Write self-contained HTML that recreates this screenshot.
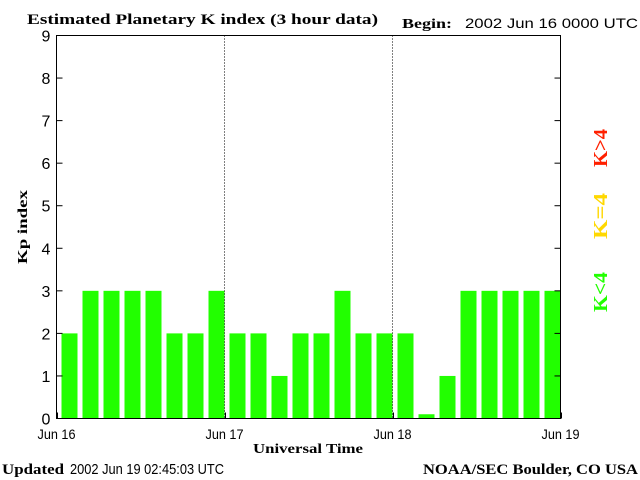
<!DOCTYPE html>
<html><head><meta charset="utf-8"><style>
body{margin:0;background:#fff}
svg{display:block}
.s{font-family:"Liberation Serif",serif;font-weight:bold}
.t{font-family:"Liberation Sans",sans-serif}
</style></head><body>
<svg id="c" width="640" height="480" xmlns="http://www.w3.org/2000/svg">
<text class="s" x="27" y="24" font-size="15" textLength="351" lengthAdjust="spacingAndGlyphs">Estimated Planetary K index (3 hour data)</text>
<text class="s" x="402" y="28" font-size="14" textLength="50" lengthAdjust="spacingAndGlyphs">Begin:</text>
<text class="t" x="465" y="28" font-size="14" textLength="173" lengthAdjust="spacingAndGlyphs">2002 Jun 16 0000 UTC</text>
<g id="bars"></g>
<g id="axes"></g>
<rect x="56.5" y="35.5" width="504" height="383" fill="none" stroke="#000" stroke-width="1"/>
<text class="s" x="308" y="453" font-size="14" text-anchor="middle" textLength="110" lengthAdjust="spacingAndGlyphs">Universal Time</text>
<text class="s" x="27" y="227" font-size="14" text-anchor="middle" textLength="74" lengthAdjust="spacingAndGlyphs" transform="rotate(-90 27 227)">Kp index</text>
<text class="s" x="607" y="148" font-size="20" fill="#ff2000" text-anchor="middle" textLength="38" lengthAdjust="spacingAndGlyphs" transform="rotate(-90 607 148)">K&gt;4</text>
<text class="s" x="607" y="216" font-size="20" fill="#ffd800" text-anchor="middle" textLength="46" lengthAdjust="spacingAndGlyphs" transform="rotate(-90 607 216)">K=4</text>
<text class="s" x="607" y="292" font-size="20" fill="#22ff00" text-anchor="middle" textLength="40" lengthAdjust="spacingAndGlyphs" transform="rotate(-90 607 292)">K&lt;4</text>
<text class="s" x="2" y="474" font-size="15" textLength="62" lengthAdjust="spacingAndGlyphs">Updated</text>
<text class="t" x="70" y="474" font-size="15" textLength="154" lengthAdjust="spacingAndGlyphs">2002 Jun 19 02:45:03 UTC</text>
<text class="s" x="638" y="474" font-size="15" text-anchor="end" textLength="215" lengthAdjust="spacingAndGlyphs">NOAA/SEC Boulder, CO USA</text>
</svg>
<script>
const kpValues=[2,3,3,3,3,2,2,3,2,2,1,2,2,3,2,2,2,0.1,1,3,3,3,3,3];
const yTicks=[0,1,2,3,4,5,6,7,8,9];
const dayLabels=["Jun 16","Jun 17","Jun 18","Jun 19"];
const NS="http://www.w3.org/2000/svg";
const x0=56.5,x1=560.5,yTop=35.5,yBot=418.5;
const xs=i=>x0+(x1-x0)*i/kpValues.length;
const ys=v=>yBot-(yBot-yTop)*v/9;
function mk(t,a,p){const e=document.createElementNS(NS,t);for(const k in a)e.setAttribute(k,a[k]);p.appendChild(e);return e;}
const bars=document.getElementById('bars'),axes=document.getElementById('axes');
const slot=(x1-x0)/kpValues.length;
kpValues.forEach((v,i)=>{
 const c=v>4?'#ff2000':(v==4?'#ffd800':'#22ff00');
 const r=mk('rect',{x:xs(i)+5,y:ys(v),width:slot-5,height:yBot-ys(v),fill:c},bars);
 
 
});
for(let i=0;i<=kpValues.length;i++){
 const x=Math.round(xs(i))+0.5;
 mk('line',{x1:x,x2:x,y1:yBot-6,y2:yBot,stroke:i%8==0?'#000':'#fff'},axes);
}
yTicks.forEach(v=>{
 const y=ys(v);
 mk('line',{x1:x0,x2:x0+6,y1:y,y2:y,stroke:'#000'},axes);
 mk('line',{x1:x1-6,x2:x1,y1:y,y2:y,stroke:'#000'},axes);
 const t=mk('text',{x:46,y:y+6,'font-size':16,'text-anchor':'middle',class:'t'},axes);
 t.textContent=v;
 
 
});
dayLabels.forEach((d,i)=>{
 const x=x0+(x1-x0)*i/3;
 if(i>0&&i<3){const l=mk('line',{x1:x,x2:x,y1:yTop,y2:yBot,stroke:'#000','stroke-dasharray':'1,2'},axes);
 
 }
 const t=mk('text',{x:x,y:439,'font-size':14,'text-anchor':'middle',textLength:38,lengthAdjust:'spacingAndGlyphs',class:'t'},axes);
 t.textContent=d;
 
 
});
</script>
</body></html>
